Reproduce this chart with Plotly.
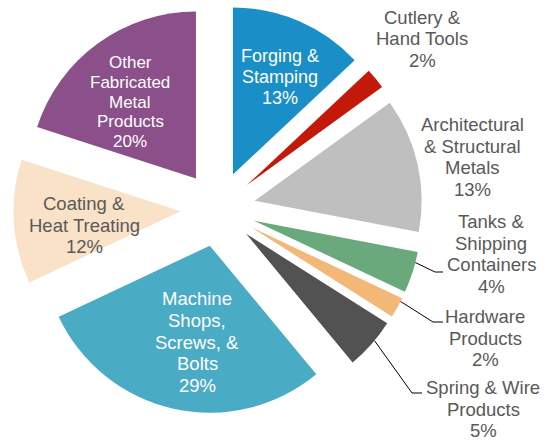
import math
import plotly.graph_objects as go

# ---- data ----
categories = ["Forging & Stamping", "Cutlery & Hand Tools", "Architectural & Structural Metals",
              "Tanks & Shipping Containers", "Hardware Products", "Spring & Wire Products",
              "Machine Shops, Screws, & Bolts", "Coating & Heat Treating",
              "Other Fabricated Metal Products"]
values = [13, 2, 13, 4, 2, 5, 29, 12, 20]
label_lines = [["Forging &", "Stamping"], ["Cutlery &", "Hand Tools"],
               ["Architectural", "& Structural", "Metals"],
               ["Tanks &", "Shipping", "Containers"], ["Hardware", "Products"],
               ["Spring & Wire", "Products"], ["Machine", "Shops,", "Screws, &", "Bolts"],
               ["Coating &", "Heat Treating"], ["Other", "Fabricated", "Metal", "Products"]]

# ---- style ----
colors = ["#1a8ec7", "#c3190b", "#bfbfbf", "#6aa97b", "#f1b877", "#525252", "#4aabc5", "#f9e2c8", "#8b4f89"]
GRAY = "#595959"
text_colors = ["white", GRAY, GRAY, GRAY, GRAY, GRAY, "white", GRAY, "white"]
W, H = 556, 441
FONT = "Liberation Sans, Arial, sans-serif"
CX, CY, R, PULL = 218, 209, 167, 0.225   # pie centre / radius in pixels
# label block centre (pixels), font size
label_pos = [(280, 77), (422, 39), (472, 157), (491, 254), (485, 338), (483, 409),
             (197, 342), (84, 225), (130, 102)]
label_size = [18, 18.5, 18.5, 18.5, 18.5, 18.5, 18.5, 18.5, 17]
# leader lines: (slice index, fraction along slice arc, elbow px, end px)
leaders = [(3, 0.26, (435, 272), (443, 272)),
           (4, 0.17, (433, 322), (443, 322)),
           (5, 0.41, (412, 393), (422, 393))]


def px(x, y):
    return x / W, 1 - y / H


total = sum(values)
cum = [sum(values[:i]) for i in range(len(values))]

fig = go.Figure(go.Pie(
    values=values,
    labels=categories,
    textinfo="none",
    marker=dict(colors=colors, line=dict(width=0)),
    pull=[PULL] * len(values),
    sort=False,
    direction="clockwise",
    rotation=0,
    domain=dict(x=[0, 2 * CX / W], y=[1 - (CY + R * (1 + PULL)) / H, 1 - (CY - R * (1 + PULL)) / H]),
    showlegend=False,
    hoverinfo="label+percent",
))

annotations = []
for i, (lines, v) in enumerate(zip(label_lines, values)):
    all_lines = lines + [f"{v}%"]
    size = label_size[i]
    sp = size * 1.17
    n = len(all_lines)
    lx, ly = label_pos[i]
    for k, t in enumerate(all_lines):
        yy = ly + (k - (n - 1) / 2) * sp
        x, y = px(lx, yy)
        annotations.append(dict(x=x, y=y, xref="paper", yref="paper", text=t, showarrow=False,
                                xanchor="center", yanchor="middle",
                                font=dict(family=FONT, size=size, color=text_colors[i])))

shapes = []
for idx, frac, elbow, end in leaders:
    a0 = cum[idx] / total * 360
    a1 = (cum[idx] + values[idx]) / total * 360
    mid = math.radians((a0 + a1) / 2)
    ang = math.radians(a0 + frac * (a1 - a0))
    ox = CX + PULL * R * math.sin(mid)
    oy = CY - PULL * R * math.cos(mid)
    sx = ox + R * math.sin(ang)
    sy = oy - R * math.cos(ang)
    p0 = px(sx, sy)
    p1 = px(*elbow)
    p2 = px(*end)
    shapes.append(dict(type="path", xref="paper", yref="paper",
                       path=f"M {p0[0]} {p0[1]} L {p1[0]} {p1[1]} L {p2[0]} {p2[1]}",
                       line=dict(color="black", width=1)))

fig.update_layout(
    width=W, height=H,
    margin=dict(l=0, r=0, t=0, b=0),
    paper_bgcolor="white",
    plot_bgcolor="white",
    annotations=annotations,
    shapes=shapes,
)
fig.write_html("out.html")
